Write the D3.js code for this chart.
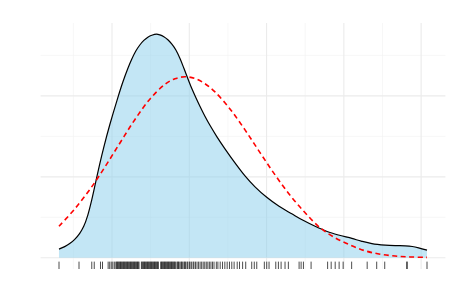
<!DOCTYPE html>
<html>
<head>
<meta charset="utf-8">
<script src="https://cdn.jsdelivr.net/npm/d3@7"></script>
<style>
  body { margin: 0; background: #fff; }
  svg { display: block; font-family: "Liberation Sans", Arial, sans-serif; }
</style>
</head>
<body>
<div id="chart"></div>
<script>
// observed values (rug)
const rugValues = [
  3.14, 5.73, 7.38, 7.70, 8.51, 8.77,
  9.5, 9.7, 9.9, 10.1, 10.3, 10.5, 10.6, 10.7, 10.8, 10.9, 11.0, 11.1, 11.2, 11.3,
  11.4, 11.5, 11.6, 11.7, 11.8, 11.9, 12.0, 12.1, 12.2, 12.3, 12.4, 12.5, 12.6, 12.7,
  12.8, 12.9, 13.0, 13.1, 13.2, 13.3, 13.4, 13.5, 13.8, 13.9, 14.0, 14.1, 14.2, 14.3,
  14.4, 14.5, 14.6, 14.7, 14.8, 14.9, 15.0, 15.1, 15.2, 15.3, 15.4, 15.5, 15.6, 15.7,
  15.8, 15.9, 16.0, 16.3, 16.4, 16.5, 16.6, 16.7, 16.8, 16.9, 17.0, 17.1, 17.2, 17.3,
  17.4, 17.5, 17.6, 17.7, 17.8, 17.9, 18.0, 18.1, 18.2, 18.4, 18.5, 18.6, 18.7, 18.9,
  19.0, 19.1, 19.3, 19.4, 19.5, 19.7, 19.8, 20.0, 20.1, 20.3, 20.5, 20.6, 20.8, 21.0,
  21.2, 21.4, 21.6, 21.8, 22.0, 22.2, 22.4, 22.6, 22.8, 23.0, 23.2, 23.5, 23.7, 24.0,
  24.3, 24.6, 24.9, 25.2, 25.5, 25.8, 26.2, 26.5, 26.9, 27.3,
  28.08, 28.41, 28.73, 29.71, 30.02, 30.32, 31.19, 31.53, 31.88, 32.39, 32.82,
  34.21, 34.47, 34.77, 35.76, 37.90, 38.36, 38.88, 39.39, 39.91, 41.01,
  43.02, 44.25, 45.29, 48.14, 48.20, 50.76
];

// kernel density estimate
const densX = [3.139, 3.878, 4.526, 5.174, 5.822, 6.341, 6.859, 7.378, 7.896, 8.415,
  8.933, 9.711, 10.657, 11.370, 12.083, 12.563, 13.081, 13.599, 14.118, 14.636, 15.155,
  15.764, 16.192, 16.710, 17.229, 17.747, 18.266, 18.784, 19.303, 19.821, 20.340,
  20.858, 21.376, 22.025, 22.673, 23.580, 24.617, 25.913, 27.209, 28.506, 30.022,
  31.616, 33.263, 34.727, 36.283, 37.838, 39.303, 41.040, 42.245, 43.632, 45.356,
  46.652, 47.948, 48.855, 49.672, 50.761];
const densY = [0.00215, 0.00277, 0.00351, 0.00457, 0.00605, 0.00778, 0.0105, 0.01433,
  0.01877, 0.02322, 0.0273, 0.03286, 0.03896, 0.04323, 0.04694, 0.04911, 0.05109,
  0.05257, 0.0537, 0.0545, 0.05499, 0.05524, 0.05506, 0.0546, 0.05385, 0.05277,
  0.05133, 0.04928, 0.04681, 0.04422, 0.04175, 0.03953, 0.03743, 0.03496, 0.03273,
  0.02989, 0.02693, 0.02347, 0.02026, 0.01754, 0.01495, 0.01272, 0.01087, 0.00926,
  0.00778, 0.0065, 0.00563, 0.00479, 0.00413, 0.00351, 0.00314, 0.00301, 0.00296,
  0.00279, 0.00247, 0.0019];

// normal reference curve
const normX = [3.139, 5.174, 7.119, 9.063, 11.007, 12.951, 14.896, 16.840, 18.136,
  19.432, 20.728, 22.025, 23.321, 25.265, 27.209, 29.153, 31.098, 33.042, 34.987,
  36.931, 38.875, 40.819, 42.763, 44.708, 46.652, 48.599, 50.761];
const normY = [0.00778, 0.01208, 0.01685, 0.02238, 0.02831, 0.03412, 0.03918, 0.04284,
  0.04422, 0.04471, 0.04429, 0.04301, 0.04098, 0.03678, 0.0316, 0.02599, 0.02048,
  0.01544, 0.01114, 0.00741, 0.00494, 0.00316, 0.00173, 0.00089, 0.00044, 0.00022,
  0.0001];

const xMajor = [10, 20, 30, 40, 50];
const xMinor = [5, 15, 25, 35, 45];
const yMajor = [0, 0.02, 0.04];
const yMinor = [0.01, 0.03, 0.05];

const W = 450, H = 300;
const panel = { left: 40.6, right: 445.4, top: 23, bottom: 269 };

const svg = d3.select("#chart").append("svg")
  .attr("width", W)
  .attr("height", H);

const xMin = d3.min(rugValues), xMax = d3.max(rugValues);
const xPad = (xMax - xMin) * 0.05;
const x = d3.scaleLinear()
  .domain([xMin - xPad, xMax + xPad])
  .range([panel.left, panel.right]);

const yTop = d3.max(densY);
const y = d3.scaleLinear()
  .domain([-0.05 * yTop, 1.05 * yTop])
  .range([panel.bottom, panel.top]);

// grid
const grid = svg.append("g");
grid.selectAll(".xminor").data(xMinor).enter().append("line")
  .attr("x1", d => x(d)).attr("x2", d => x(d))
  .attr("y1", panel.top).attr("y2", panel.bottom)
  .attr("stroke", "#f1f1f1").attr("stroke-width", 0.6);
grid.selectAll(".yminor").data(yMinor).enter().append("line")
  .attr("x1", panel.left).attr("x2", panel.right)
  .attr("y1", d => y(d)).attr("y2", d => y(d))
  .attr("stroke", "#f1f1f1").attr("stroke-width", 0.6);
grid.selectAll(".xmajor").data(xMajor).enter().append("line")
  .attr("x1", d => x(d)).attr("x2", d => x(d))
  .attr("y1", panel.top).attr("y2", panel.bottom)
  .attr("stroke", "#ebebeb").attr("stroke-width", 1.1);
grid.selectAll(".ymajor").data(yMajor).enter().append("line")
  .attr("x1", panel.left).attr("x2", panel.right)
  .attr("y1", d => y(d)).attr("y2", d => y(d))
  .attr("stroke", "#ebebeb").attr("stroke-width", 1.1);

const dens = densX.map((v, i) => ({ x: v, y: densY[i] }));
const norm = normX.map((v, i) => ({ x: v, y: normY[i] }));

const area = d3.area()
  .x(d => x(d.x))
  .y0(y(0))
  .y1(d => y(d.y))
  .curve(d3.curveCatmullRom.alpha(0.5));

const line = d3.line()
  .x(d => x(d.x))
  .y(d => y(d.y))
  .curve(d3.curveCatmullRom.alpha(0.5));

svg.append("path")
  .datum(dens)
  .attr("d", area)
  .attr("fill", "skyblue")
  .attr("fill-opacity", 0.5);

svg.append("path")
  .datum(dens)
  .attr("d", line)
  .attr("fill", "none")
  .attr("stroke", "black")
  .attr("stroke-width", 1.2);

svg.append("path")
  .datum(norm)
  .attr("d", line)
  .attr("fill", "none")
  .attr("stroke", "red")
  .attr("stroke-width", 1.6)
  .attr("stroke-dasharray", "5,3.5");

// rug
const rugLen = (panel.bottom - panel.top) * 0.03;
svg.append("g").selectAll("line")
  .data(rugValues).enter().append("line")
  .attr("x1", d => x(d)).attr("x2", d => x(d))
  .attr("y1", panel.bottom).attr("y2", panel.bottom - rugLen)
  .attr("stroke", "black")
  .attr("stroke-opacity", 0.7)
  .attr("stroke-width", 1);
</script>
</body>
</html>
